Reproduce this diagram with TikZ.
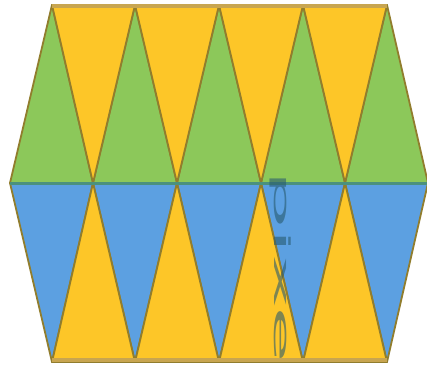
\documentclass[tikz,border=0pt]{standalone}
\usepackage{fontspec}
\setmainfont{DejaVu Sans}
\definecolor{yel}{RGB}{253,198,40}
\definecolor{grn}{RGB}{140,200,90}
\definecolor{blu}{RGB}{92,160,225}
\definecolor{edge}{RGB}{145,125,45}
\definecolor{tealline}{RGB}{75,145,125}
\definecolor{tan}{RGB}{200,165,80}
\definecolor{wm}{RGB}{40,90,110}
\tikzset{
  tri/.style={draw=edge,line width=1.8pt,line join=round},
  band/.style={line width=4pt,line cap=butt},
}
\begin{document}
\begin{tikzpicture}[x=1pt,y=-1pt]
\useasboundingbox (0,0) rectangle (427,374);
\fill[white] (0,0) rectangle (427,374);
% coordinates
\foreach \i/\x in {0/52,1/135,2/219,3/303,4/387}{
  \coordinate (T\i) at (\x,5);
  \coordinate (B\i) at (\x,362);
}
\foreach \i/\x in {0/10,1/93,2/177,3/261,4/345,5/428}{
  \coordinate (M\i) at (\x,183);
}
\foreach \i [evaluate=\i as \j using int(\i+1)] in {0,...,4}{
  \filldraw[tri,fill=grn] (M\i) -- (M\j) -- (T\i) -- cycle;
  \filldraw[tri,fill=blu] (M\i) -- (M\j) -- (B\i) -- cycle;
}
\foreach \i [evaluate=\i as \j using int(\i+1)] in {0,...,3}{
  \filldraw[tri,fill=yel] (T\i) -- (T\j) -- (M\j) -- cycle;
  \filldraw[tri,fill=yel] (B\i) -- (B\j) -- (M\j) -- cycle;
}
% bands
\draw[band,tan] ([yshift=-1pt]T0) -- ([yshift=-1pt]T4);
\draw[band,tan] ([yshift=2pt]B0) -- ([yshift=2pt]B4);
\draw[line width=3pt,tealline] (M0) -- (M5);
% watermark
\node[rotate=-90,anchor=west,text=wm,opacity=0.6,inner sep=0pt] (wmk) at (281,170)
  {\scalebox{4.2}[1]{\fontsize{22pt}{22pt}\selectfont pixe}};
\end{tikzpicture}
\end{document}
